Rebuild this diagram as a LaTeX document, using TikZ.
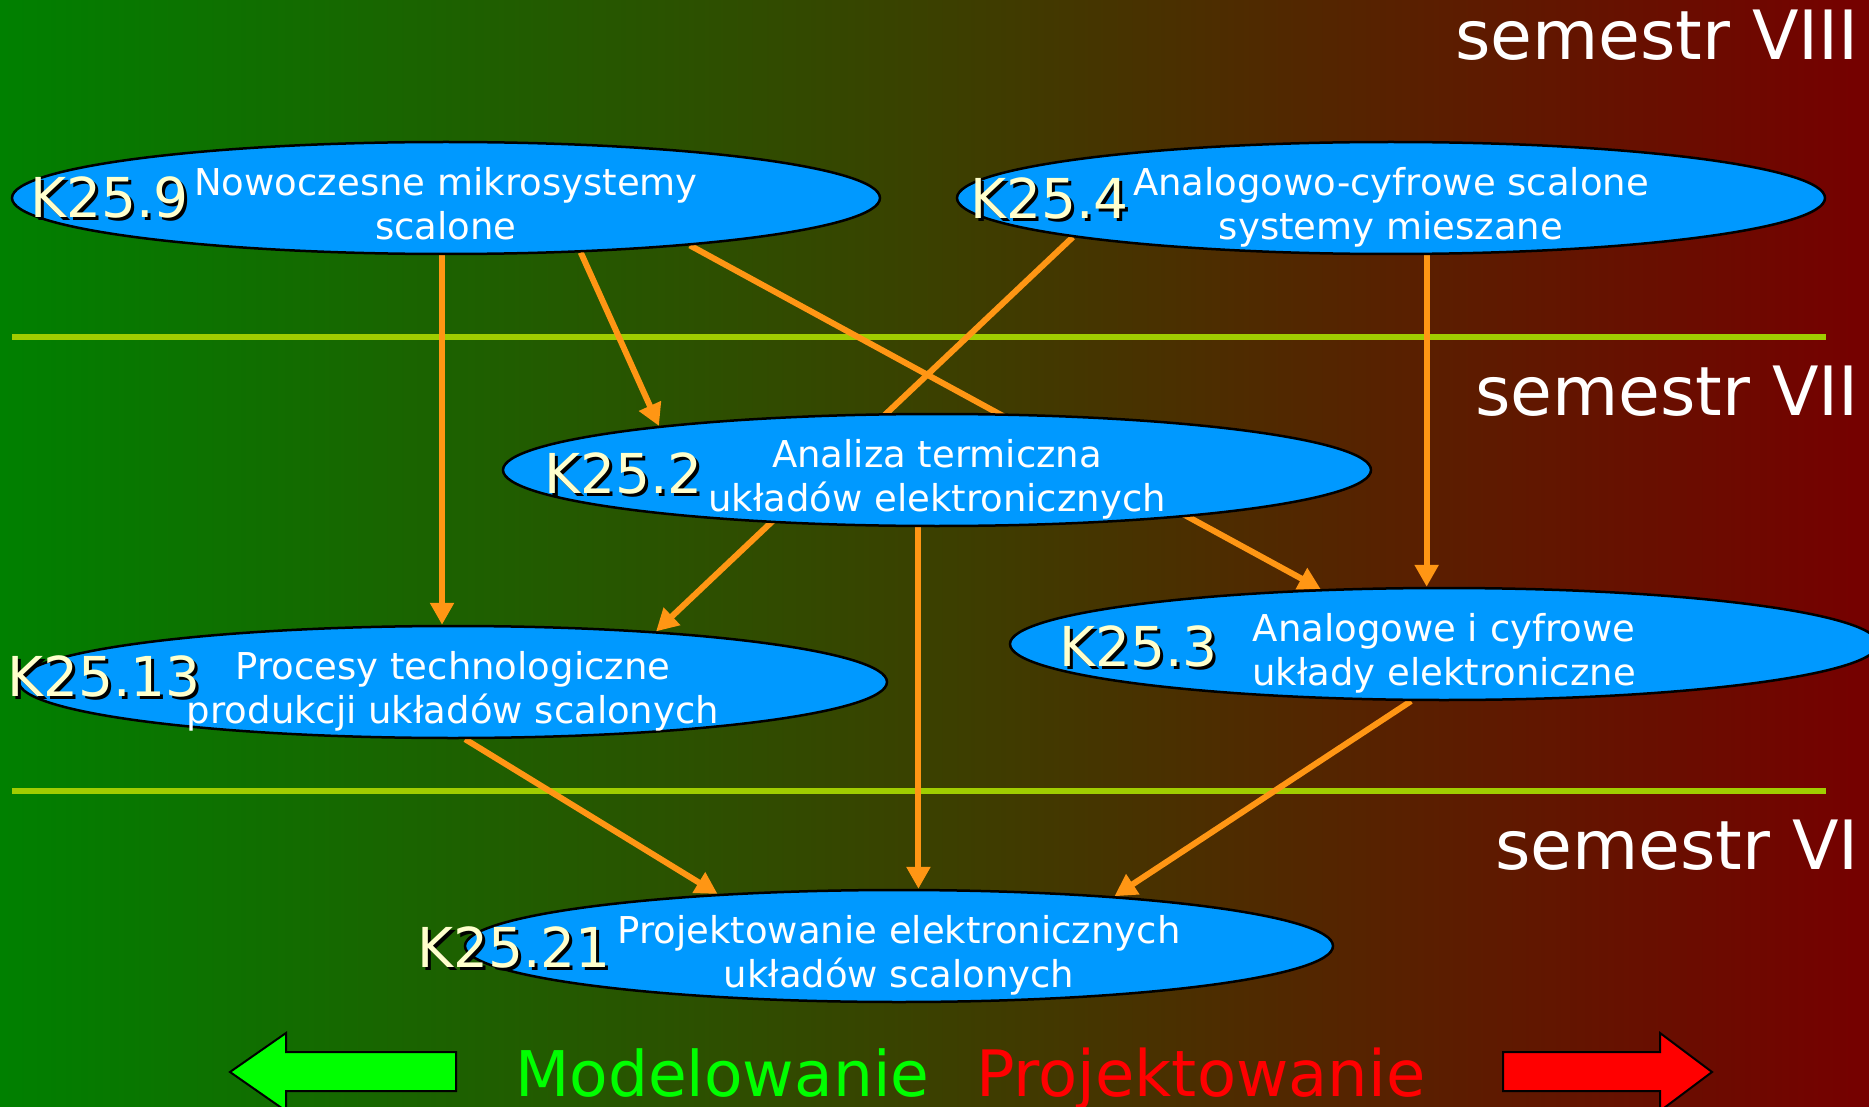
\documentclass[tikz,border=0pt]{standalone}
\usepackage{fontspec}
\setmainfont{DejaVu Sans}
\usepackage{tikz}
\usetikzlibrary{arrows.meta,shapes.geometric,positioning}

\definecolor{courseblue}{RGB}{0,153,255}
\definecolor{codecream}{RGB}{255,255,204}
\definecolor{wireorange}{RGB}{255,150,20}
\definecolor{dividergreen}{RGB}{160,205,0}
\definecolor{leftgreen}{RGB}{0,128,0}
\definecolor{rightred}{RGB}{118,0,0}
\definecolor{arrowgreen}{RGB}{0,255,0}

\pgfdeclarelayer{back}
\pgfdeclarelayer{wires}
\pgfsetlayers{back,wires,main}

% course code with a dark drop shadow
\newcommand{\kod}[1]{\makebox[0pt][l]{\kern3pt\raisebox{-3pt}{\color{black}#1}}#1}

\begin{document}
\begin{tikzpicture}[x=1pt,y=-1pt]
    \tikzstyle{course}=[ellipse, draw=black, line width=2.5pt, fill=courseblue, minimum width=868pt, minimum height=112pt, inner sep=0pt]
    \tikzstyle{ctitle}=[text=white, align=center, inner sep=0pt, anchor=north, font=\fontsize{37}{44}\selectfont]
    \tikzstyle{kcode}=[text=codecream, inner sep=0pt, anchor=base west, font=\fontsize{55}{66}\selectfont]
    \tikzstyle{sem}=[text=white, inner sep=0pt, anchor=base east, font=\fontsize{68}{80}\selectfont]
    \tikzstyle{connect}=[-{Triangle[length=22pt,width=23pt]}, line width=6pt, draw=wireorange]
    \tikzstyle{divider}=[line width=6pt, draw=dividergreen]
    \tikzstyle{bigarrow}=[draw=black, line width=2pt]

    \useasboundingbox (0,0) rectangle (1869,1107);
    \begin{pgfonlayer}{back}
      \shade[left color=leftgreen, right color=rightred] (0,0) rectangle (1869,1107);
      \draw[divider] (12,337) -- (1826,337);
      \draw[divider] (12,791) -- (1826,791);
    \end{pgfonlayer}

      \node[sem] (s8) at (1859,60) {semestr VIII};
      \node[sem] (s7) at (1859,415) {semestr VII};
      \node[sem] (s6) at (1859,869) {semestr VI};

      \node[course] (n9) at (446,198) {};
      \node[course] (n4) at (1391,198) {};
      \node[course] (n2) at (937,470) {};
      \node[course] (n13) at (453,682) {};
      \node[course] (n3) at (1444,644) {};
      \node[course] (n21) at (899,946) {};

      \node[ctitle] (t9) at ([yshift=31pt]n9.center) {Nowoczesne mikrosystemy\\scalone};
      \node[ctitle] (t4) at ([yshift=31pt]n4.center) {Analogowo-cyfrowe scalone\\systemy mieszane};
      \node[ctitle] (t2) at ([yshift=31pt]n2.center) {Analiza termiczna\\układów elektronicznych};
      \node[ctitle] (t13) at ([yshift=31pt]n13.center) {Procesy technologiczne\\produkcji układów scalonych};
      \node[ctitle] (t3) at ([yshift=31pt]n3.center) {Analogowe i cyfrowe\\układy elektroniczne};
      \node[ctitle] (t21) at ([yshift=31pt]n21.center) {Projektowanie elektronicznych\\układów scalonych};

      \node[kcode] (k9) at (30,218) {\kod{K25.9}};
      \node[kcode] (k4) at (970,219) {\kod{K25.4}};
      \node[kcode] (k2) at (544,493) {\kod{K25.2}};
      \node[kcode] (k13) at (7,696) {\kod{K25.13}};
      \node[kcode] (k3) at (1059,666) {\kod{K25.3}};
      \node[kcode] (k21) at (417,967) {\kod{K25.21}};

    \begin{pgfonlayer}{wires}
      \path
        (n9.-94) edge [connect] (n9.-94 |- n13.north)
        (n9.-22) edge [connect] (n2.171)
        (n9.-11) edge [connect] (n3.156)
        (n4.-173) edge [connect] (n13.14)
        (n4.-58) edge [connect] (n4.-58 |- n3.north)
        (n2.-108) edge [connect] (n2.-108 |- n21.north)
        (n13.-78) edge [connect] (n21.164)
        (n3.-120) edge [connect] (n21.13);
    \end{pgfonlayer}

      % direction arrows at the bottom
      \draw[bigarrow, fill=arrowgreen] (456,1052) -- (286,1052) -- (286,1033) -- (230,1072)
        -- (286,1111) -- (286,1091) -- (456,1091) -- cycle;
      \draw[bigarrow, fill=red] (1503,1052) -- (1660,1052) -- (1660,1033) -- (1712,1072)
        -- (1660,1111) -- (1660,1091) -- (1503,1091) -- cycle;
      \node[anchor=base west, inner sep=0pt, text=arrowgreen, font=\fontsize{63}{74}\selectfont] (model) at (515,1096) {Modelowanie};
      \node[anchor=base west, inner sep=0pt, text=red, font=\fontsize{64}{74}\selectfont] (proj) at (976,1096) {Projektowanie};
\end{tikzpicture}
\end{document}
